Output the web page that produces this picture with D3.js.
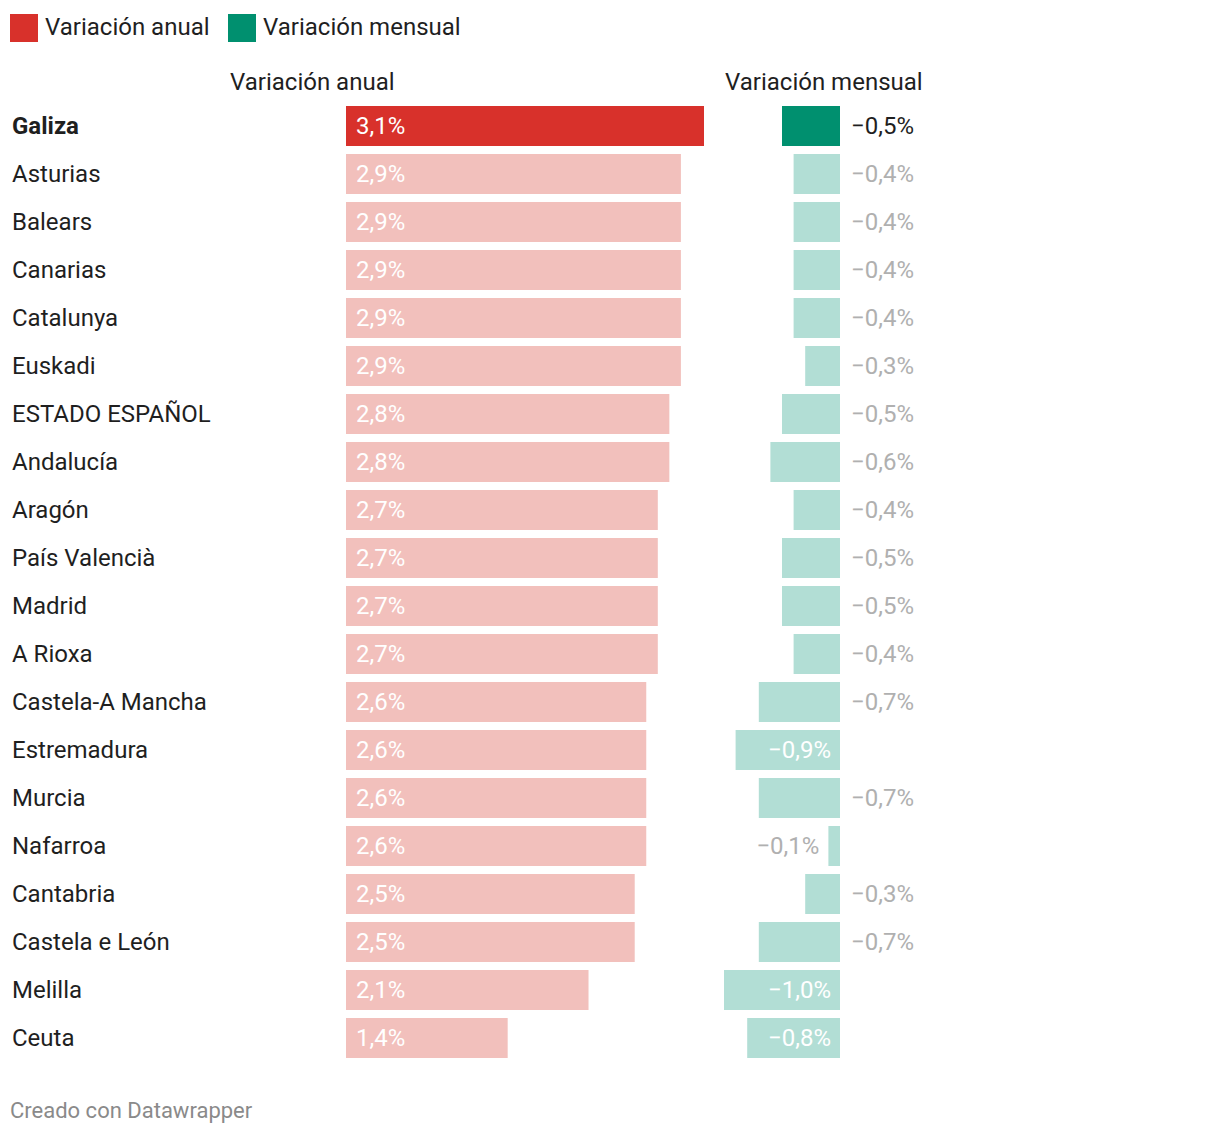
<!DOCTYPE html>
<html>
<head>
<meta charset="utf-8">
<script src="https://cdn.jsdelivr.net/npm/d3@7"></script>
<style>
  html, body { margin: 0; padding: 0; background: #fff; }
  svg { display: block; font-family: Roboto, "Noto Sans", sans-serif; }
</style>
</head>
<body>
<svg id="chart" width="1220" height="1136"></svg>
<script>
const regions = ["Galiza","Asturias","Balears","Canarias","Catalunya","Euskadi","ESTADO ESPAÑOL","Andalucía","Aragón","País Valencià","Madrid","A Rioxa","Castela-A Mancha","Estremadura","Murcia","Nafarroa","Cantabria","Castela e León","Melilla","Ceuta"];
const annual = [3.1,2.9,2.9,2.9,2.9,2.9,2.8,2.8,2.7,2.7,2.7,2.7,2.6,2.6,2.6,2.6,2.5,2.5,2.1,1.4];
const monthly = [-0.5,-0.4,-0.4,-0.4,-0.4,-0.3,-0.5,-0.6,-0.4,-0.5,-0.5,-0.4,-0.7,-0.9,-0.7,-0.1,-0.3,-0.7,-1.0,-0.8];
const highlighted = ["Galiza"];
const seriesNames = ["Variación anual","Variación mensual"];
const footerText = "Creado con Datawrapper";

const C = {
  red: "#d8312b", redLight: "#f2c0bc",
  green: "#00906f", greenLight: "#b2ded5",
  text: "#1f1f1f", muted: "#b0b0b0", footer: "#8a8a8a"
};
const FS = 24;
const fmt = v => (v < 0 ? "\u2212" : "") + Math.abs(v).toFixed(1).replace(".", ",") + "%";

const svg = d3.select("#chart");

// Legend
const legend = svg.append("g");
const legendItems = [{name: seriesNames[0], color: C.red, x: 10}, {name: seriesNames[1], color: C.green, x: 228}];
legendItems.forEach(it => {
  legend.append("rect").attr("x", it.x).attr("y", 14).attr("width", 28).attr("height", 28).attr("fill", it.color);
  legend.append("text").attr("x", it.x + 35).attr("y", 35).attr("font-size", FS).attr("fill", C.text).text(it.name);
});

// Scales
const y = d3.scaleBand().domain(regions).range([102, 1062]).paddingInner(1/6).paddingOuter(1/12);
const xA = d3.scaleLinear().domain([0, 3.1]).range([346, 704]);
const xM = d3.scaleLinear().domain([-1.0, 0]).range([724, 840]);

// Column headers
svg.append("text").attr("x", 230).attr("y", 90).attr("font-size", FS).attr("fill", C.text).text(seriesNames[0]);
svg.append("text").attr("x", 725).attr("y", 90).attr("font-size", FS).attr("fill", C.text).text(seriesNames[1]);

const rows = svg.append("g").selectAll("g").data(regions.map((r, i) => ({r, a: annual[i], m: monthly[i], hl: highlighted.includes(r)})))
  .join("g");

const base = d => y(d.r) + y.bandwidth() / 2 + 8;

// Row labels
rows.append("text")
  .attr("x", 12)
  .attr("y", base)
  .attr("font-size", FS)
  .attr("font-weight", d => d.hl ? 700 : 400)
  .attr("fill", C.text)
  .text(d => d.r);

// Annual bars
rows.append("rect")
  .attr("x", xA(0))
  .attr("y", d => y(d.r))
  .attr("width", d => xA(d.a) - xA(0))
  .attr("height", y.bandwidth())
  .attr("fill", d => d.hl ? C.red : C.redLight);
rows.append("text")
  .attr("x", xA(0) + 10)
  .attr("y", base)
  .attr("font-size", FS)
  .attr("fill", "#fff")
  .text(d => fmt(d.a));

// Monthly bars
rows.append("rect")
  .attr("x", d => xM(d.m))
  .attr("y", d => y(d.r))
  .attr("width", d => xM(0) - xM(d.m))
  .attr("height", y.bandwidth())
  .attr("fill", d => d.hl ? C.green : C.greenLight);
rows.append("text")
  .attr("y", base)
  .attr("font-size", FS)
  .each(function(d) {
    const t = d3.select(this);
    const mag = Math.abs(d.m);
    if (mag >= 0.8) {
      t.attr("x", xM(0) - 9).attr("text-anchor", "end").attr("fill", "#fff");
    } else if (mag <= 0.1) {
      t.attr("x", xM(d.m) - 9).attr("text-anchor", "end").attr("fill", d.hl ? C.text : C.muted);
    } else {
      t.attr("x", xM(0) + 11).attr("text-anchor", "start").attr("fill", d.hl ? C.text : C.muted);
    }
  })
  .text(d => fmt(d.m));

// Footer
svg.append("text").attr("x", 10).attr("y", 1118).attr("font-size", 22).attr("fill", C.footer).text(footerText);
</script>
</body>
</html>
